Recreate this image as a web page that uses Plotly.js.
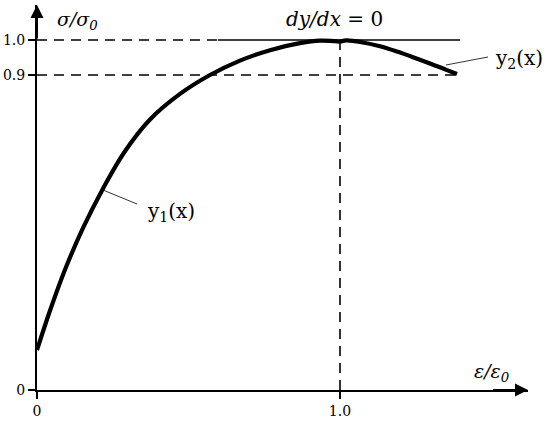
<!DOCTYPE html>
<html>
<head>
<meta charset="utf-8">
<script src="https://cdn.plot.ly/plotly-3.0.1.min.js"></script>
<style>html,body{margin:0;padding:0;background:#fff;}#chart{width:550px;height:424px;}</style>
</head>
<body>
<div id="chart"></div>
<script>
// ---- data ----
var y1X = [0, 0.043, 0.092, 0.152, 0.215, 0.287, 0.373, 0.472, 0.571, 0.670, 0.769, 0.868, 0.934, 1.0];
var y1Y = [0.114, 0.227, 0.343, 0.463, 0.571, 0.678, 0.773, 0.846, 0.900, 0.941, 0.971, 0.991, 0.998, 0.995];
var y2X = [1.0, 1.020, 1.076, 1.132, 1.188, 1.241, 1.297, 1.353, 1.386];
var y2Y = [0.995, 0.999, 0.993, 0.982, 0.967, 0.951, 0.933, 0.914, 0.903];
var xTickVals = [0, 1.0];
var xTickText = ["0", "1.0"];
var yTickVals = [0, 0.9, 1.0];
var yTickText = ["0", "0.9", "1.0"];
var peakLevel = 1.0;
var levelB = 0.9;
var peakX = 1.0;
var lineEndX = 1.396;
var dashedEndX = 0.597;

// pixel -> data helpers (for text placement only)
function xd(px){ return (px - 37) / 303; }
function yd(py){ return (390 - py) / 350; }

var serif = "DejaVu Serif";

var traces = [
  {x: y1X, y: y1Y, mode: "lines", line: {color: "#000", width: 4.2, shape: "spline", smoothing: 1}, hoverinfo: "skip"},
  {x: y2X, y: y2Y, mode: "lines", line: {color: "#000", width: 4.2, shape: "spline", smoothing: 1}, hoverinfo: "skip"}
];

var dash = "10px,7px";
var shapes = [
  {type: "line", xref: "x", yref: "y", x0: 0, x1: dashedEndX, y0: peakLevel, y1: peakLevel, line: {color: "#000", width: 1.6, dash: dash}},
  {type: "line", xref: "x", yref: "y", x0: dashedEndX, x1: lineEndX, y0: peakLevel, y1: peakLevel, line: {color: "#000", width: 1.6}},
  {type: "line", xref: "x", yref: "y", x0: 0, x1: y2X[y2X.length-1], y0: levelB, y1: levelB, line: {color: "#000", width: 1.6, dash: dash}},
  {type: "line", xref: "x", yref: "y", x0: peakX, x1: peakX, y0: 0, y1: peakLevel, line: {color: "#000", width: 1.6, dash: dash}},
  // leader lines
  {type: "line", xref: "x", yref: "y", x0: xd(103), y0: yd(190), x1: xd(137), y1: yd(204), line: {color: "#000", width: 0.8}},
  {type: "line", xref: "x", yref: "y", x0: xd(446), y0: yd(65), x1: xd(488), y1: yd(57), line: {color: "#000", width: 0.8}}
];

var annotations = [
  {x: 0, y: 1.1, ax: 0, ay: 1.0, axref: "x", ayref: "y", xref: "x", yref: "y", text: "", showarrow: true, arrowhead: 2, arrowsize: 1.3, arrowwidth: 2, arrowcolor: "#000"},
  {x: 1.6205, y: 0, ax: 1.5, ay: 0, axref: "x", ayref: "y", xref: "x", yref: "y", text: "", showarrow: true, arrowhead: 2, arrowsize: 1.3, arrowwidth: 2, arrowcolor: "#000"},
  {x: xd(77), y: yd(20), xref: "x", yref: "y", text: "<i>σ/σ<sub>0</sub></i>", showarrow: false, font: {family: serif, size: 19, color: "#000"}},
  {x: xd(335), y: yd(19), xref: "x", yref: "y", text: "<i>dy/dx</i> = 0", showarrow: false, font: {family: serif, size: 20, color: "#000"}},
  {x: xd(492), y: yd(372), xref: "x", yref: "y", text: "<i>ε/ε<sub>0</sub></i>", showarrow: false, font: {family: serif, size: 19, color: "#000"}},
  {x: xd(171), y: yd(212), xref: "x", yref: "y", text: "y<sub>1</sub>(x)", showarrow: false, font: {family: serif, size: 20, color: "#000"}},
  {x: xd(519), y: yd(59), xref: "x", yref: "y", text: "y<sub>2</sub>(x)", showarrow: false, font: {family: serif, size: 20, color: "#000"}}
];

var layout = {
  width: 550, height: 424,
  margin: {l: 37, r: 22, t: 5, b: 34, pad: 0},
  paper_bgcolor: "#fff", plot_bgcolor: "#fff",
  showlegend: false,
  font: {family: serif, color: "#000"},
  xaxis: {range: [0, 1.6205], showgrid: false, zeroline: false, showline: true, linecolor: "#000", linewidth: 2,
          tickvals: xTickVals, ticktext: xTickText, ticks: "outside", ticklen: 7, tickwidth: 1.6, tickcolor: "#000",
          tickfont: {family: serif, size: 14, color: "#000"}, fixedrange: true},
  yaxis: {range: [0, 1.1], showgrid: false, zeroline: false, showline: true, linecolor: "#000", linewidth: 2,
          tickvals: yTickVals, ticktext: yTickText, ticks: "outside", ticklen: 7, tickwidth: 1.6, tickcolor: "#000",
          tickfont: {family: serif, size: 14, color: "#000"}, fixedrange: true},
  shapes: shapes,
  annotations: annotations
};

Plotly.newPlot("chart", traces, layout, {displayModeBar: false, staticPlot: true});
</script>
</body>
</html>
